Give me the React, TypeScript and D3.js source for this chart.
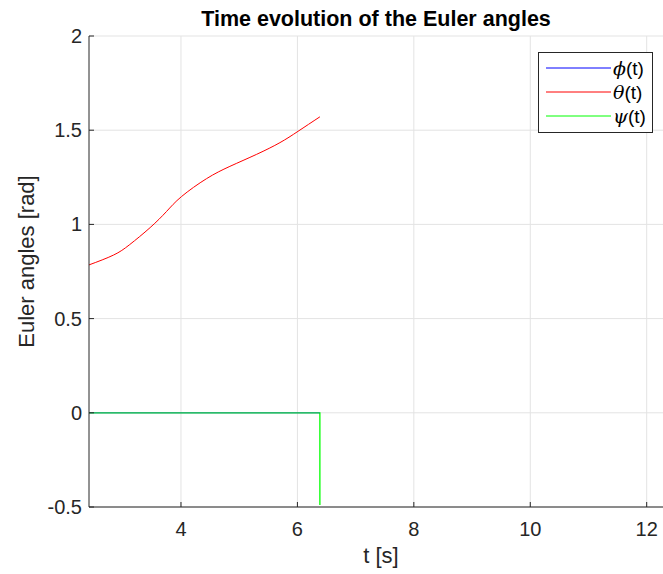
import React from "react";
import * as d3 from "d3";

// sampled from the figure
const tSamples = [2.42, 2.84, 3.12, 3.47, 3.75, 4.01, 4.44, 4.84, 5.3, 5.7, 6.01, 6.386];
const thetaValues = [0.785, 0.837, 0.893, 0.983, 1.068, 1.148, 1.243, 1.308, 1.372, 1.434, 1.494, 1.571];
const phiT = [2.42, 6.386];
const phiValues = [0, 0];
const psiT = [2.42, 6.386, 6.386];
const psiValues = [0, 0, -0.49];

const xTicks = [4, 6, 8, 10, 12];
const yTicks = [-0.5, 0, 0.5, 1, 1.5, 2];
const legendLabels = ["ϕ", "θ", "ψ"];
const legendColors = ["#0000ff", "#ff0000", "#00ff00"];

const W = 663;
const H = 574;
const margin = { left: 89, right: 0, top: 36, bottom: 67 };
const font = "'Liberation Sans', Arial, Helvetica, sans-serif";

export default function App() {
    const x = d3.scaleLinear().domain([2.42, 12.28]).range([margin.left, W - margin.right]);
    const y = d3.scaleLinear().domain([-0.5, 2]).range([H - margin.bottom, margin.top]);

    const line = d3.line<[number, number]>()
        .x(d => x(d[0]))
        .y(d => y(d[1]));
    const smooth = d3.line<[number, number]>()
        .x(d => x(d[0]))
        .y(d => y(d[1]))
        .curve(d3.curveNatural);

    const theta = tSamples.map((t, i) => [t, thetaValues[i]] as [number, number]);
    const phi = phiT.map((t, i) => [t, phiValues[i]] as [number, number]);
    const psi = psiT.map((t, i) => [t, psiValues[i]] as [number, number]);

    const x0 = margin.left;
    const x1 = W - margin.right;
    const yb = H - margin.bottom;
    const axisColor = "#262626";

    return (
        <svg width={W} height={H} style={{ position: "absolute", left: 0, top: 0 }} fontFamily={font}>
            <rect width={W} height={H} fill="#fff" />
            {/* grid */}
            {xTicks.map(t => (
                <line key={"gx" + t} x1={x(t)} x2={x(t)} y1={margin.top} y2={yb} stroke="#e3e3e3" strokeWidth={1} />
            ))}
            {yTicks.map(t => (
                <line key={"gy" + t} x1={x0} x2={x1} y1={y(t)} y2={y(t)} stroke="#e3e3e3" strokeWidth={1} />
            ))}

            {/* data */}
            <path d={smooth(theta) ?? ""} fill="none" stroke="#ff0000" strokeWidth={1} />
            <path d={line(psi) ?? ""} fill="none" stroke="#00ff00" strokeWidth={1.3} />
            <path d={line(phi) ?? ""} fill="none" stroke="#0000ff" strokeOpacity={0.35} strokeWidth={1.3} />

            {/* axes */}
            <line x1={x0} x2={x0} y1={margin.top} y2={yb} stroke={axisColor} strokeWidth={1} />
            <line x1={x0} x2={x1} y1={yb} y2={yb} stroke={axisColor} strokeWidth={1} />
            {xTicks.map(t => (
                <g key={"tx" + t}>
                    <line x1={x(t)} x2={x(t)} y1={yb} y2={yb - 5} stroke={axisColor} />
                    <text x={x(t)} y={yb + 29} textAnchor="middle" fontSize={20} fill={axisColor}>{t}</text>
                </g>
            ))}
            {yTicks.map(t => (
                <g key={"ty" + t}>
                    <line x1={x0} x2={x0 + 5} y1={y(t)} y2={y(t)} stroke={axisColor} />
                    <text x={x0 - 7} y={y(t) + 7} textAnchor="end" fontSize={20} fill={axisColor}>{t}</text>
                </g>
            ))}

            {/* labels */}
            <text x={(x0 + x1) / 2} y={26} textAnchor="middle" fontSize={21.5} fontWeight="bold" fill="#000">
                Time evolution of the Euler angles
            </text>
            <text x={381} y={563} textAnchor="middle" fontSize={22} fill={axisColor}>t [s]</text>
            <text transform={`translate(34, ${(margin.top + yb) / 2 - 10}) rotate(-90)`} textAnchor="middle" fontSize={22} fill={axisColor}>
                Euler angles [rad]
            </text>

            {/* legend */}
            <rect x={538.5} y={52.5} width={114} height={80} fill="#fff" stroke={axisColor} strokeWidth={1} />
            {legendLabels.map((l, i) => (
                <g key={l}>
                    <line x1={546} x2={611} y1={68 + i * 24} y2={68 + i * 24} stroke={legendColors[i]} strokeWidth={1} />
                    <text x={613} y={75 + i * 24} fontSize={19} fill="#000">
                        <tspan fontFamily="'DejaVu Serif', serif" fontStyle="italic">{l}</tspan>(t)
                    </text>
                </g>
            ))}
        </svg>
    );
}
